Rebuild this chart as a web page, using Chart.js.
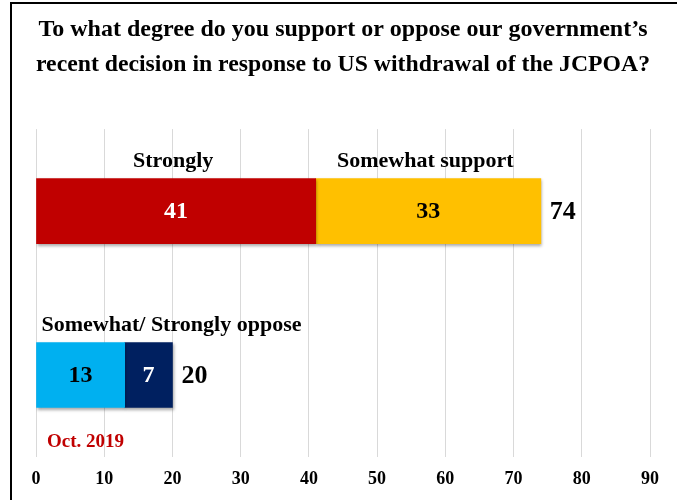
<!DOCTYPE html>
<html>
<head>
<meta charset="utf-8">
<script src="https://cdn.jsdelivr.net/npm/chart.js@4"></script>
<style>
  html, body { margin: 0; padding: 0; background: #fff; }
  #wrap { position: relative; width: 677px; height: 500px; }
</style>
</head>
<body>
<div id="wrap"><canvas id="chart" width="677" height="500"></canvas></div>
<script>
// --- data ---
const rows = ['Support', 'Oppose'];
const seriesNames = ['Strongly support', 'Somewhat support', 'Somewhat oppose', 'Strongly oppose'];
const strongSupport = [41, null];
const somewhatSupport = [33, null];
const somewhatOppose = [null, 13];
const strongOppose = [null, 7];
const totals = [74, 20];
const headerLabels = ['Strongly', 'Somewhat support', 'Somewhat/ Strongly oppose', null];
const xTicks = [0, 10, 20, 30, 40, 50, 60, 70, 80, 90];
const titleLines = [
  'To what degree do you support or oppose our government\u2019s',
  'recent decision in response to US withdrawal of the JCPOA?'
];
const footNote = 'Oct. 2019';

const SERIF = '"Liberation Serif", "Times New Roman", serif';
const barColors = ['#C00000', '#FFC000', '#00B0F0', '#002060'];
const valueColors = ['#ffffff', '#000000', '#000000', '#ffffff'];

// draws value labels, the small headers above bars, totals, note and frame
const labelPlugin = {
  id: 'labels',
  beforeDatasetsDraw(chart) {
    const ctx = chart.ctx;
    ctx.save();
    ctx.shadowColor = 'rgba(0,0,0,0.35)';
    ctx.shadowOffsetX = 1;
    ctx.shadowOffsetY = 2;
    ctx.shadowBlur = 3;
  },
  afterDatasetsDraw(chart) {
    const ctx = chart.ctx;
    ctx.restore();
    ctx.save();
    const lastEnd = {};
    chart.data.datasets.forEach((ds, i) => {
      const meta = chart.getDatasetMeta(i);
      meta.data.forEach((el, j) => {
        const v = ds.data[j];
        if (v == null) return;
        const left = Math.min(el.x, el.base), right = Math.max(el.x, el.base);
        lastEnd[j] = Math.max(lastEnd[j] || 0, right);
        ctx.font = 'bold 24px ' + SERIF;
        ctx.fillStyle = valueColors[i];
        ctx.textAlign = 'center';
        ctx.textBaseline = 'middle';
        ctx.fillText(String(v), (left + right) / 2, el.y + 1);
        const h = headerLabels[i];
        if (h) {
          ctx.font = 'bold 22px ' + SERIF;
          ctx.fillStyle = '#000';
          if (i === 2) {
            ctx.textAlign = 'left';
            ctx.fillText(h, left + 5, el.y - 50);
          } else {
            ctx.textAlign = 'center';
            ctx.fillText(h, (left + right) / 2 - 3, el.y - 50);
          }
        }
      });
    });
    ctx.font = 'bold 26px ' + SERIF;
    ctx.fillStyle = '#000';
    ctx.textAlign = 'left';
    ctx.textBaseline = 'middle';
    const yScale = chart.scales.y;
    totals.forEach((t, j) => {
      ctx.fillText(String(t), lastEnd[j] + 9, yScale.getPixelForValue(j) + 1);
    });
    const area = chart.chartArea;
    ctx.font = 'bold 19px ' + SERIF;
    ctx.fillStyle = '#C00000';
    ctx.fillText(footNote, area.left + 11, 442);
    ctx.restore();
  },
  afterDraw(chart) {
    const ctx = chart.ctx;
    ctx.save();
    ctx.strokeStyle = '#000';
    ctx.lineWidth = 2;
    ctx.beginPath();
    ctx.moveTo(11, 500);
    ctx.lineTo(11, 3);
    ctx.lineTo(677, 3);
    ctx.stroke();
    ctx.restore();
  }
};

new Chart(document.getElementById('chart'), {
  type: 'bar',
  data: {
    labels: rows,
    datasets: [
      { label: seriesNames[0], data: strongSupport, backgroundColor: barColors[0] },
      { label: seriesNames[1], data: somewhatSupport, backgroundColor: barColors[1] },
      { label: seriesNames[2], data: somewhatOppose, backgroundColor: barColors[2] },
      { label: seriesNames[3], data: strongOppose, backgroundColor: barColors[3] }
    ]
  },
  options: {
    indexAxis: 'y',
    responsive: false,
    animation: false,
    barThickness: 65,
    layout: { padding: { left: 36, right: 27, top: 12, bottom: 0 } },
    scales: {
      x: {
        stacked: true,
        min: 0,
        max: 90,
        afterBuildTicks: (axis) => { axis.ticks = xTicks.map(v => ({ value: v })); },
        afterFit: (axis) => { axis.height = 43; },
        grid: { color: '#d9d9d9', drawTicks: false },
        border: { display: false },
        ticks: { color: '#000', padding: 12, font: { family: SERIF, size: 18, weight: 'bold' } }
      },
      y: { stacked: true, display: false }
    },
    plugins: {
      legend: { display: false },
      tooltip: { enabled: false },
      title: {
        display: true,
        text: titleLines,
        color: '#000',
        font: { family: SERIF, size: 24, weight: 'bold', lineHeight: 1.46 },
        padding: { top: 0, bottom: 47 }
      }
    }
  },
  plugins: [labelPlugin]
});
</script>
</body>
</html>
